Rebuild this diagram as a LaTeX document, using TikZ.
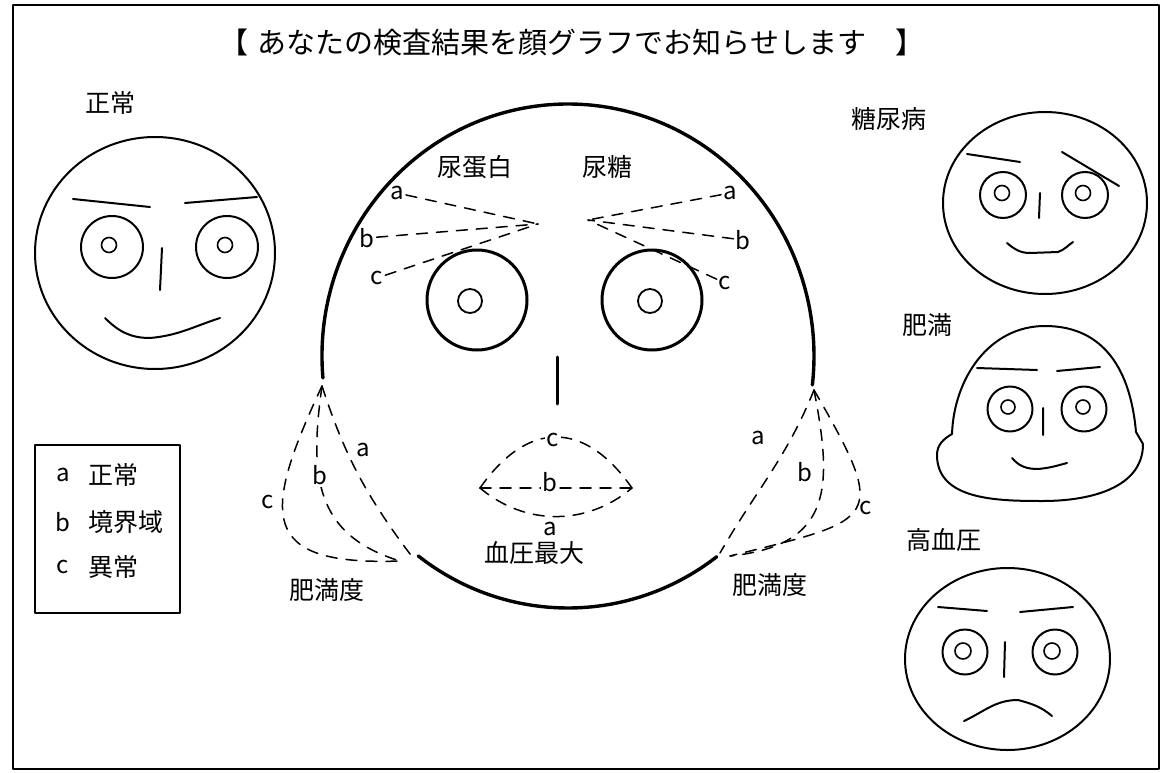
\documentclass[tikz,border=0pt]{standalone}
\usepackage{fontspec}
\setmainfont{Noto Sans CJK JP}
\begin{document}
\begin{tikzpicture}[x=1pt,y=1pt,yscale=-1, line join=round, line cap=round,
	face/.style={line width=2pt},
	bigface/.style={line width=3.4pt},
	guide/.style={line width=1.5pt, dash pattern=on 11pt off 9pt},
	lbl/.style={font=\fontsize{25}{25}\selectfont, inner sep=0pt},
	abc/.style={font=\fontsize{24}{24}\selectfont, inner sep=2pt}]
	\useasboundingbox (0,0) rectangle (1162,773);
	\draw[line width=2pt] (13,5) rectangle (1159,769);
	\node[font=\fontsize{29}{29}\selectfont] (ttl) at (572,42) {【\hspace{0.3em}あなたの検査結果を顔グラフでお知らせします\hspace{1em}】};
	
	% normal face
	\node[lbl] (nlab) at (110,103) {正常};
	\draw[face] (155,253) ellipse [x radius=120, y radius=116];
	\draw[face] (73,199)--(150,207) (185,203)--(257,197) (162,248)--(160,290);
	\draw[face] (105,318) to[out=45,in=180] (150,338) to[out=-5,in=162] (220,318);
	\foreach \ex/\ix in {112/109,227/225}{
		\draw[face] (\ex,247) circle (31);
		\draw[line width=1.6pt] (\ix,245) circle (7.5);}
	
	% big face
	\path
	(568,356) coordinate (C)
	(322,386) coordinate (lt)
	(400,561) coordinate (lb)
	(413,558) coordinate (lba)
	(814,390) coordinate (rt)
	(730,556) coordinate (rb)
	(720,553) coordinate (rba)
	(538,224) coordinate (UL)
	(588,220) coordinate (UR)
	(480,488) coordinate (ML)
	(632,488) coordinate (MR)
	;
	\draw[bigface] (C) ++(175:246 and 252) arc[start angle=175, end angle=366.6, x radius=246, y radius=252];
	\draw[bigface] (C) ++(52.8:246 and 252) arc[start angle=52.8, end angle=127.5, x radius=246, y radius=252];
	\foreach \ex/\ix in {477/470,652/650}{
		\draw[line width=3pt] (\ex,300) circle (50);
		\draw[line width=1.8pt] (\ix,301) circle (12);}
	\draw[line width=3pt] (557,357)--(557,404);
	
	\node[lbl] (prot) at (475,167) {尿蛋白};
	\node[lbl] (sug) at (607,167) {尿糖};
	\foreach \p/\x/\y/\t in {pa/397/193/a,pb/367/238/b,pc/377/278/c}{
		\node[abc] (\p) at (\x,\y) {\t};
		\draw[guide] (\p) -- (UL);}
	\foreach \p/\x/\y/\t in {sa/730/193/a,sb/743/240/b,sc/725/283/c}{
		\node[abc] (\p) at (\x,\y) {\t};
		\draw[guide] (\p) -- (UR);}
	
	% cheeks
	\draw[guide] (lt) to[out=72,in=233] (lba);
	\draw[guide] (lt) to[out=98,in=197,looseness=1.2] (lb);
	\draw[guide] (lt) to[out=115,in=178,looseness=1.9] (lb);
	\draw[guide] (rt) to[out=112,in=300] (rba);
	\draw[guide] (rt) to[out=79,in=-6,looseness=1.4] (rb);
	\draw[guide] (rt) to[out=60,in=-14,looseness=2.1] (rb);
	\node[abc] (lca) at (363,450) {a};
	\node[abc,fill=white] (lcb) at (320,475) {b};
	\node[abc] (lcc) at (268,502) {c};
	\node[abc] (rca) at (758,438) {a};
	\node[abc,fill=white] (rcb) at (805,472) {b};
	\node[abc] (rcc) at (866,508) {c};
	\node[lbl] (lfat) at (327,590) {肥満度};
	\node[lbl] (rfat) at (770,585) {肥満度};
	
	% mouth
	\draw[guide] (ML) to[out=-55,in=-125,looseness=1.4] (MR);
	\draw[guide] (ML) -- (MR);
	\draw[guide] (ML) to[out=40,in=140] (MR);
	\node[abc,fill=white] (mc) at (553,440) {c};
	\node[abc,fill=white] (mb) at (550,482) {b};
	\node[abc] (ma) at (550,529) {a};
	\node[lbl] (bp) at (534,553) {血圧最大};
	
	% legend
	\draw[line width=1.5pt] (35,445) rectangle (180,613);
	\foreach \k/\t/\y in {a/正常/475,b/境界域/522,c/異常/567}{
		\node[abc] (k\k) at (63,\y) {\k};
		\node[lbl,anchor=west] (t\k) at (88,\y) {\t};}
	
	% diabetes
	\node[lbl] (dlab) at (889,119) {糖尿病};
	\draw[face] (1045,203) ellipse [x radius=102, y radius=91];
	\draw[face] (967,154)--(1020,162) (1062,152)--(1119,186) (1040,193)--(1039,218);
	\draw[face] (1007,243) to[out=40,in=180] (1030,253) -- (1058,252) to[out=-20,in=145] (1073,242);
	\foreach \ex/\ix in {1003/1002,1085/1083}{
		\draw[face] (\ex,195) circle (23);
		\draw[line width=1.6pt] (\ix,193) circle (7.5);}
	
	% obesity
	\node[lbl] (olab) at (927,325) {肥満};
	\draw[face] (952,434) to[out=-88,in=180] (1045,326) to[out=0,in=-95,looseness=1.1] (1136,432)
		-- (1143,444) to[out=90,in=0] (1043,501) to[out=180,in=90] (937,455) to[out=-90,in=150] (952,434) -- cycle;
	\draw[face] (977,368)--(1037,370) (1057,371)--(1100,367) (1043,408)--(1043,435);
	\draw[face] (1012,458) to[out=50,in=180] (1038,469) to[out=-5,in=165] (1067,463);
	\foreach \ex/\ix in {1010/1008,1084/1083}{
		\draw[face] (\ex,409) circle (22.5);
		\draw[line width=1.6pt] (\ix,407) circle (7);}
	
	% hypertension
	\node[lbl] (hlab) at (944,540) {高血圧};
	\draw[face] (1007.5,659) ellipse [x radius=102.5, y radius=91];
	\draw[face] (938,607)--(987,611) (1020,612)--(1073,607) (1005,642)--(1004,677);
	\draw[face] (964,721) to[out=-25,in=180] (1018,700) to[out=15,in=-140] (1052,716);
	\foreach \ex/\ix in {965/963,1055/1052}{
		\draw[face] (\ex,652) circle (22.5);
		\draw[line width=1.6pt] (\ix,651) circle (8);}
\end{tikzpicture}
\end{document}
